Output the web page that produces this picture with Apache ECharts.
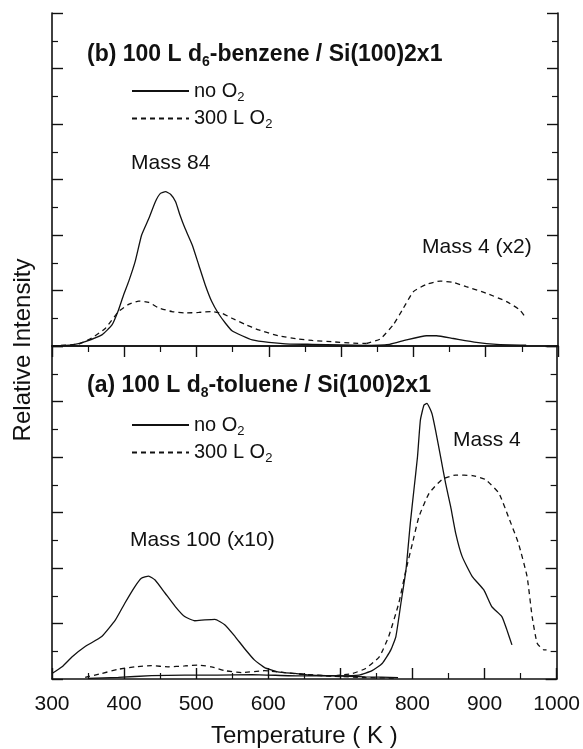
<!DOCTYPE html>
<html>
<head>
<meta charset="utf-8">
<script src="https://cdn.jsdelivr.net/npm/echarts@6/dist/echarts.min.js"></script>
<style>
  html, body { margin: 0; padding: 0; background: #fff; }
  #chart { width: 583px; height: 749px; }
</style>
</head>
<body>
<div id="chart"></div>
<script>
// temperature axis (K)
var xMin = 300, xMax = 1000, xStep = 100;

// (b) benzene panel: Mass 84 and Mass 4 (x2)
var bMass84NoO2 = [[300, 0], [328, 0.04], [346, 0.16], [369, 0.4], [383, 0.76], [392, 1.3], [399, 1.84], [406, 2.32], [415, 3.04], [424, 4.0], [434, 4.6], [443, 5.2], [450, 5.5], [457, 5.56], [464, 5.47], [471, 5.2], [477, 4.72], [484, 4.24], [494, 3.64], [503, 2.92], [512, 2.2], [521, 1.6], [530, 1.18], [540, 0.82], [549, 0.55], [563, 0.37], [577, 0.22], [600, 0.13], [623, 0.08], [660, 0.06], [700, 0.04], [735, 0.02]];
var bMass84O2 = [[300, 0], [337, 0.07], [355, 0.29], [374, 0.64], [392, 1.24], [406, 1.5], [420, 1.62], [434, 1.57], [447, 1.38], [466, 1.24], [484, 1.19], [503, 1.21], [521, 1.24], [535, 1.18], [549, 1.0], [567, 0.78], [586, 0.58], [613, 0.37], [641, 0.25], [660, 0.2], [689, 0.15], [717, 0.1], [735, 0.09]];
var bMass4NoO2 = [[735, 0.02], [767, 0.06], [790, 0.22], [818, 0.37], [832, 0.37], [855, 0.27], [887, 0.13], [915, 0.06], [956, 0.03]];
var bMass4O2 = [[735, 0.09], [754, 0.25], [772, 0.76], [786, 1.36], [800, 1.96], [818, 2.22], [837, 2.34], [855, 2.29], [873, 2.14], [901, 1.9], [929, 1.6], [947, 1.3], [956, 1.0]];

// (a) toluene panel: Mass 100 (x10) and Mass 4
var aMass100NoO2 = [[300, 0.2], [314, 0.44], [328, 0.8], [346, 1.17], [369, 1.53], [388, 2.13], [401, 2.73], [415, 3.33], [424, 3.63], [434, 3.71], [443, 3.57], [457, 3.09], [471, 2.61], [484, 2.25], [498, 2.1], [512, 2.13], [526, 2.15], [540, 1.95], [554, 1.53], [567, 1.1], [581, 0.68], [595, 0.41], [613, 0.26], [637, 0.2], [660, 0.14], [689, 0.12], [735, 0.08], [780, 0.05]];
var aMass100O2 = [[346, 0.06], [369, 0.2], [392, 0.35], [415, 0.44], [438, 0.48], [461, 0.44], [484, 0.47], [503, 0.5], [521, 0.44], [540, 0.3], [563, 0.23], [595, 0.3], [623, 0.23], [660, 0.14], [689, 0.1], [735, 0.05], [780, 0.03]];
var aMass4NoO2 = [[350, 0.02], [392, 0.06], [438, 0.12], [484, 0.14], [530, 0.14], [577, 0.16], [643, 0.11], [698, 0.11], [726, 0.14], [744, 0.3], [758, 0.56], [770, 1.05], [777, 1.53], [784, 2.73], [791, 3.93], [797, 5.61], [802, 6.81], [807, 8.01], [811, 9.33], [816, 9.87], [820, 9.93], [827, 9.57], [832, 8.97], [839, 8.01], [846, 7.05], [853, 6.21], [860, 5.25], [869, 4.41], [883, 3.69], [899, 3.21], [910, 2.61], [924, 2.25], [931, 1.77], [938, 1.23]];
var aMass4O2 = [[643, 0.18], [689, 0.11], [717, 0.2], [735, 0.38], [754, 0.8], [767, 1.53], [781, 2.73], [791, 3.93], [800, 4.89], [809, 5.85], [823, 6.69], [841, 7.19], [860, 7.35], [883, 7.33], [901, 7.19], [920, 6.69], [933, 5.85], [947, 4.89], [959, 3.69], [966, 2.25], [973, 1.29], [982, 1.05], [986, 1.05]];

var legendNames = ['no O2', '300 L O2'];

var chart = echarts.init(document.getElementById('chart'));

var font = 'Liberation Sans, Arial, Helvetica, sans-serif';
var black = '#111';

function xAx(gridIndex, position, opts) {
    return Object.assign({
        type: 'value', gridIndex: gridIndex, position: position,
        min: xMin, max: xMax, interval: xStep,
        axisLine: { show: true, lineStyle: { color: black, width: 1.6 } },
        axisTick: { show: true, inside: true, length: 11, lineStyle: { color: black, width: 1.4 } },
        minorTick: { show: true, splitNumber: 2, length: 6, lineStyle: { color: black, width: 1.2 } },
        axisLabel: { show: false },
        splitLine: { show: false }
    }, opts || {});
}
function yAx(gridIndex, position) {
    return {
        type: 'value', gridIndex: gridIndex, position: position,
        min: 0, max: 12, interval: 2,
        axisLine: { show: true, lineStyle: { color: black, width: 1.6 } },
        axisTick: { show: true, inside: true, length: 11, lineStyle: { color: black, width: 1.4 } },
        minorTick: { show: true, splitNumber: 2, length: 6, lineStyle: { color: black, width: 1.2 } },
        axisLabel: { show: false },
        splitLine: { show: false }
    };
}
function line(name, data, xi, yi, dashed) {
    return {
        name: name, type: 'line', data: data,
        xAxisIndex: xi, yAxisIndex: yi,
        smooth: 0.15, symbol: 'none', silent: true,
        lineStyle: { color: black, width: 1.3, type: dashed ? [5, 4] : 'solid' },
        itemStyle: { color: black }
    };
}
var subRich = {
    sub: { fontSize: 13, fontFamily: font, color: black, verticalAlign: 'bottom', padding: [12, 0, 0, 0] }
};
function legendBlock(top) {
    return {
        data: legendNames, orient: 'vertical', left: 126, top: top,
        itemWidth: 57, itemHeight: 14, itemGap: 5,
        itemStyle: { opacity: 0 },
        textStyle: { fontFamily: font, fontSize: 20, color: black, rich: subRich },
        formatter: function (n) { return n.replace('O2', 'O{sub|2}'); },
        selectedMode: false
    };
}

var option = {
    animation: false,
    backgroundColor: '#fff',
    grid: [
        { left: 52, right: 25, top: 13, height: 333 },
        { left: 52, right: 25, top: 346, height: 333 }
    ],
    xAxis: [
        xAx(0, 'bottom', { axisTick: { show: false }, minorTick: { show: false } }),
        xAx(0, 'top'),
        xAx(1, 'bottom', {
            axisLabel: { show: true, margin: 15, fontFamily: font, fontSize: 21, color: black,
                         formatter: function (v) { return String(v); } },
            name: 'Temperature ( K )', nameLocation: 'middle', nameGap: 45,
            nameTextStyle: { fontFamily: font, fontSize: 24, color: black }
        })
    ],
    yAxis: [yAx(0, 'left'), yAx(0, 'right'), yAx(1, 'left'), yAx(1, 'right')],
    legend: [legendBlock(76), legendBlock(410)],
    series: [
        line('no O2', bMass84NoO2, 0, 0, false),
        line('300 L O2', bMass84O2, 0, 0, true),
        line('no O2', bMass4NoO2, 0, 0, false),
        line('300 L O2', bMass4O2, 0, 0, true),
        line('no O2', aMass100NoO2, 2, 2, false),
        line('300 L O2', aMass100O2, 2, 2, true),
        line('no O2', aMass4NoO2, 2, 2, false),
        line('300 L O2', aMass4O2, 2, 2, true)
    ],
    graphic: [
        { type: 'text', x: 23, y: 350, rotation: Math.PI / 2,
          style: { text: 'Relative Intensity', font: '24px ' + font, fill: black, textAlign: 'center', textVerticalAlign: 'middle' } },
        { type: 'text', x: 87, y: 55,
          style: { text: '(b) 100 L d{s|6}-benzene / Si(100)2x1', textVerticalAlign: 'middle',
                   rich: { s: { fontSize: 14, fontWeight: 'bold', fontFamily: font, fill: black, padding: [15, 0, 0, 0] } },
                   font: 'bold 23px ' + font, fill: black } },
        { type: 'text', x: 87, y: 386,
          style: { text: '(a) 100 L d{s|8}-toluene / Si(100)2x1', textVerticalAlign: 'middle',
                   rich: { s: { fontSize: 14, fontWeight: 'bold', fontFamily: font, fill: black, padding: [15, 0, 0, 0] } },
                   font: 'bold 23px ' + font, fill: black } },
        { type: 'text', x: 131, y: 163, style: { text: 'Mass 84', font: '21px ' + font, fill: black, textVerticalAlign: 'middle' } },
        { type: 'text', x: 422, y: 247, style: { text: 'Mass 4 (x2)', font: '21px ' + font, fill: black, textVerticalAlign: 'middle' } },
        { type: 'text', x: 130, y: 540, style: { text: 'Mass 100 (x10)', font: '21px ' + font, fill: black, textVerticalAlign: 'middle' } },
        { type: 'text', x: 453, y: 440, style: { text: 'Mass 4', font: '21px ' + font, fill: black, textVerticalAlign: 'middle' } }
    ]
};

chart.setOption(option);
</script>
</body>
</html>
